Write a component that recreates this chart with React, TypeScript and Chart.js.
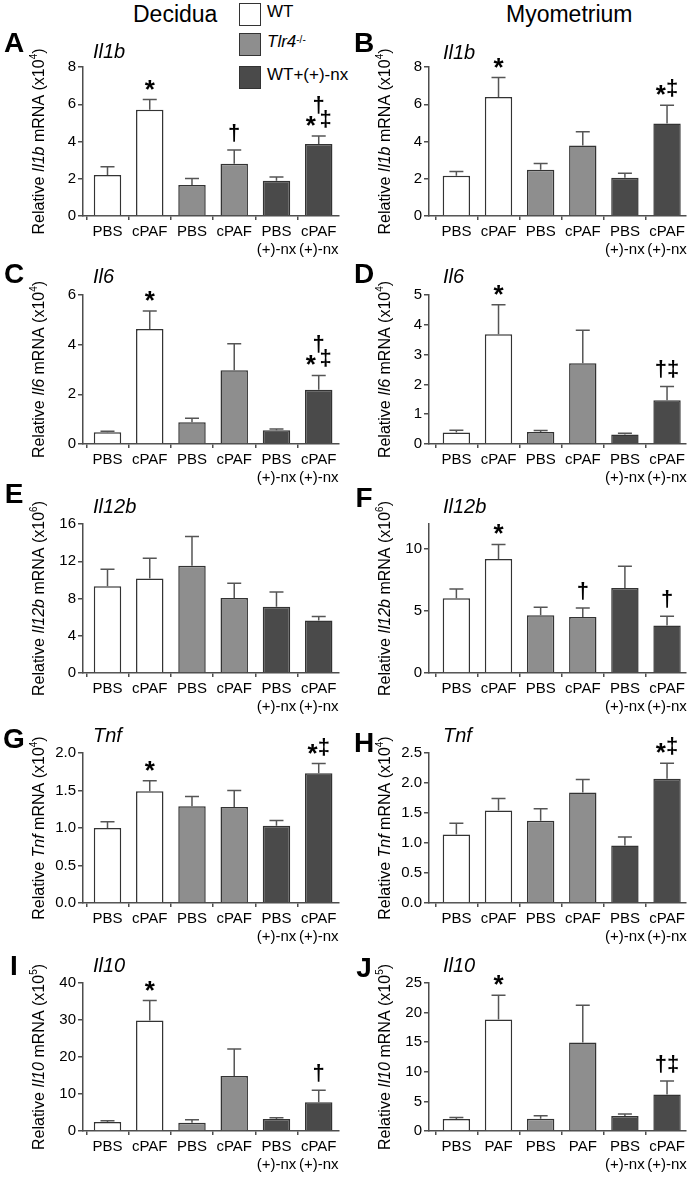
import React, { useEffect, useRef } from 'react';
import { Chart, registerables } from 'chart.js';

Chart.register(...registerables);

const FONT = '"Liberation Sans", Arial, Helvetica, sans-serif';
const AXIS_COLOR = '#4d4d4d';
const BAR_BORDER = '#333333';
const ERR_COLOR = '#555555';
const WT_FILL = '#ffffff';
const TLR4_FILL = '#8e8e8e';
const NX_FILL = '#4a4a4a';
const groupFills = [WT_FILL, WT_FILL, TLR4_FILL, TLR4_FILL, NX_FILL, NX_FILL];

// ---------------- data ----------------
const treatments = ['PBS', 'cPAF', 'PBS', 'cPAF', ['PBS', '(+)-nx'], ['cPAF', '(+)-nx']];
const treatmentsMyoIl10 = ['PBS', 'PAF', 'PBS', 'PAF', ['PBS', '(+)-nx'], ['cPAF', '(+)-nx']];
const legendLabels = ['WT', 'Tlr4', 'WT+(+)-nx'];

// Decidua
const decIl1bMean = [2.2, 5.71, 1.66, 2.8, 1.89, 3.86];
const decIl1bSem = [0.44, 0.54, 0.36, 0.74, 0.21, 0.43];
const decIl1bMarks = ['', '*', '', '†', '', '†\n* ‡'];

const decIl6Mean = [0.47, 4.63, 0.88, 2.97, 0.55, 2.18];
const decIl6Sem = [0.04, 0.73, 0.16, 1.07, 0.05, 0.58];
const decIl6Marks = ['', '*', '', '', '', '†\n* ‡'];

const decIl12bMean = [9.31, 10.16, 11.52, 8.05, 7.12, 5.65];
const decIl12bSem = [1.82, 2.15, 3.15, 1.58, 1.58, 0.43];
const decIl12bMarks = ['', '', '', '', '', ''];

const decTnfMean = [1.0, 1.49, 1.29, 1.28, 1.03, 1.73];
const decTnfSem = [0.085, 0.14, 0.13, 0.22, 0.07, 0.13];
const decTnfMarks = ['', '*', '', '', '', '*‡'];

const decIl10Mean = [2.42, 29.87, 2.24, 14.89, 3.23, 7.8];
const decIl10Sem = [0.36, 5.38, 0.81, 7.26, 0.36, 3.23];
const decIl10Marks = ['', '*', '', '', '', '†'];

// Myometrium
const myoIl1bMean = [2.16, 6.39, 2.48, 3.79, 2.05, 4.96];
const myoIl1bSem = [0.23, 1.04, 0.34, 0.73, 0.24, 0.99];
const myoIl1bMarks = ['', '*', '', '', '', '*‡'];

const myoIl6Mean = [0.39, 3.68, 0.4, 2.71, 0.32, 1.47];
const myoIl6Sem = [0.07, 0.99, 0.05, 1.11, 0.04, 0.46];
const myoIl6Marks = ['', '*', '', '', '', '†‡'];

const myoIl12bMean = [6.02, 9.19, 4.65, 4.52, 6.85, 3.82];
const myoIl12bSem = [0.75, 1.16, 0.65, 0.72, 1.75, 0.75];
const myoIl12bMarks = ['', '*', '', '†', '', '†'];

const myoTnfMean = [1.14, 1.54, 1.37, 1.84, 0.96, 2.07];
const myoTnfSem = [0.19, 0.2, 0.2, 0.22, 0.14, 0.26];
const myoTnfMarks = ['', '', '', '', '', '*‡'];

const myoIl10Mean = [2.02, 18.83, 2.07, 14.97, 2.52, 6.17];
const myoIl10Sem = [0.28, 4.1, 0.51, 6.27, 0.34, 2.29];
const myoIl10Marks = ['', '*', '', '', '', '†‡'];

// ---------------- layout ----------------
const COL_LEFT = [0, 346];
const PLOT_LEFT = [83, 429];
const PLOT_RIGHT = [339, 686];
const X_RANGE = [[-0.58, 5.48], [-0.65, 5.45]];
const ROW_TOP = [67, 295, 524, 753, 983];
const ROW_BOTTOM = [216, 444, 673, 903, 1131];
const LETTER_CX = [14, 364];
const TITLE_X = [93, 443];
const TOP_PAD = 50;
const X_AXIS_H = 46;

type Spec = {
  letter: string; gene: string; exp: string;
  labels: any[]; mean: number[]; sem: number[]; marks: string[];
  yMax: number; yStep: number; decimals: number; includeBounds: boolean;
  col: number; row: number; letterY: number; titleY: number;
};

const panels: Spec[] = [
  { letter: 'A', gene: 'Il1b', exp: '4', labels: treatments, mean: decIl1bMean, sem: decIl1bSem, marks: decIl1bMarks, yMax: 8, yStep: 2, decimals: 0, includeBounds: true, col: 0, row: 0, letterY: 52, titleY: 58 },
  { letter: 'B', gene: 'Il1b', exp: '4', labels: treatments, mean: myoIl1bMean, sem: myoIl1bSem, marks: myoIl1bMarks, yMax: 8, yStep: 2, decimals: 0, includeBounds: true, col: 1, row: 0, letterY: 52, titleY: 59 },
  { letter: 'C', gene: 'Il6', exp: '4', labels: treatments, mean: decIl6Mean, sem: decIl6Sem, marks: decIl6Marks, yMax: 6, yStep: 2, decimals: 0, includeBounds: true, col: 0, row: 1, letterY: 283, titleY: 283 },
  { letter: 'D', gene: 'Il6', exp: '4', labels: treatments, mean: myoIl6Mean, sem: myoIl6Sem, marks: myoIl6Marks, yMax: 5, yStep: 1, decimals: 0, includeBounds: true, col: 1, row: 1, letterY: 283, titleY: 283 },
  { letter: 'E', gene: 'Il12b', exp: '6', labels: treatments, mean: decIl12bMean, sem: decIl12bSem, marks: decIl12bMarks, yMax: 16, yStep: 4, decimals: 0, includeBounds: true, col: 0, row: 2, letterY: 503, titleY: 513 },
  { letter: 'F', gene: 'Il12b', exp: '6', labels: treatments, mean: myoIl12bMean, sem: myoIl12bSem, marks: myoIl12bMarks, yMax: 12, yStep: 5, decimals: 0, includeBounds: false, col: 1, row: 2, letterY: 507, titleY: 513 },
  { letter: 'G', gene: 'Tnf', exp: '4', labels: treatments, mean: decTnfMean, sem: decTnfSem, marks: decTnfMarks, yMax: 2, yStep: 0.5, decimals: 1, includeBounds: true, col: 0, row: 3, letterY: 748, titleY: 742 },
  { letter: 'H', gene: 'Tnf', exp: '4', labels: treatments, mean: myoTnfMean, sem: myoTnfSem, marks: myoTnfMarks, yMax: 2.5, yStep: 0.5, decimals: 1, includeBounds: true, col: 1, row: 3, letterY: 752, titleY: 742 },
  { letter: 'I', gene: 'Il10', exp: '5', labels: treatments, mean: decIl10Mean, sem: decIl10Sem, marks: decIl10Marks, yMax: 40, yStep: 10, decimals: 0, includeBounds: true, col: 0, row: 4, letterY: 975, titleY: 972 },
  { letter: 'J', gene: 'Il10', exp: '5', labels: treatmentsMyoIl10, mean: myoIl10Mean, sem: myoIl10Sem, marks: myoIl10Marks, yMax: 25, yStep: 5, decimals: 0, includeBounds: true, col: 1, row: 4, letterY: 977, titleY: 972 },
];

function geometry(s: Spec) {
  const ox = COL_LEFT[s.col];
  const oy = ROW_TOP[s.row] - TOP_PAD;
  const h = ROW_BOTTOM[s.row] - ROW_TOP[s.row] + TOP_PAD + X_AXIS_H;
  return { ox, oy, h, w: 346, padRight: ox + 346 - PLOT_RIGHT[s.col], yWidth: PLOT_LEFT[s.col] - ox };
}

const STAR_FONT = `bold 26px ${FONT}`;
const DAGGER_FONT = `bold 22px ${FONT}`;

function drawMarks(ctx: CanvasRenderingContext2D, text: string, cx: number, baseY: number) {
  const lines = text.split('\n');
  const n = lines.length;
  lines.forEach((line, li) => {
    const y = baseY - (n - 1 - li) * 14;
    const chars = Array.from(line);
    const fonts = chars.map((c) => (c === '*' ? STAR_FONT : DAGGER_FONT));
    const widths = chars.map((c, k) => {
      ctx.font = fonts[k];
      return ctx.measureText(c).width * (c === ' ' ? 0.6 : 1);
    });
    const total = widths.reduce((a, b) => a + b, 0);
    let x = cx - total / 2;
    chars.forEach((c, k) => {
      ctx.font = fonts[k];
      if (c !== ' ') ctx.fillText(c, x, c === '*' ? y + 8 : y);
      x += widths[k];
    });
  });
}

const decorPlugin = {
  id: 'decor',
  afterDraw(chart: any, _args: any, opts: any) {
    const s: Spec = opts.spec;
    const { ox, oy } = opts;
    const ctx: CanvasRenderingContext2D = chart.ctx;
    const y = chart.scales.y;
    const area = chart.chartArea;
    const meta = chart.getDatasetMeta(0);
    ctx.save();
    // error bars (upper SEM)
    ctx.strokeStyle = ERR_COLOR;
    ctx.lineWidth = 1.5;
    ctx.fillStyle = '#000';
    ctx.textAlign = 'left';
    ctx.textBaseline = 'alphabetic';
    meta.data.forEach((el: any, i: number) => {
      const yBar = y.getPixelForValue(s.mean[i]);
      const yTop = y.getPixelForValue(s.mean[i] + s.sem[i]);
      ctx.beginPath();
      ctx.moveTo(el.x, yBar);
      ctx.lineTo(el.x, yTop);
      ctx.moveTo(el.x - 7, yTop);
      ctx.lineTo(el.x + 7, yTop);
      ctx.stroke();
      if (s.marks[i]) drawMarks(ctx, s.marks[i], el.x, yTop - 10);
    });

    // panel letter
    ctx.font = `bold 28px ${FONT}`;
    ctx.textAlign = 'center';
    ctx.fillText(s.letter, LETTER_CX[s.col] - ox, s.letterY - oy);

    // gene title
    ctx.font = `italic 20px ${FONT}`;
    ctx.textAlign = 'left';
    ctx.fillText(s.gene, TITLE_X[s.col] - ox, s.titleY - oy);

    // y axis title, rotated, with italic gene and superscript exponent
    const pieces = [
      { t: 'Relative ', f: `16px ${FONT}`, dy: 0 },
      { t: s.gene, f: `italic 16px ${FONT}`, dy: 0 },
      { t: ' mRNA (x10', f: `16px ${FONT}`, dy: 0 },
      { t: s.exp, f: `10px ${FONT}`, dy: -7 },
      { t: ')', f: `16px ${FONT}`, dy: 0 },
    ];
    const widths = pieces.map((p) => {
      ctx.font = p.f;
      return ctx.measureText(p.t).width;
    });
    const total = widths.reduce((a, b) => a + b, 0);
    ctx.translate(area.left - 39, (area.top + area.bottom) / 2);
    ctx.rotate(-Math.PI / 2);
    let x = -total / 2;
    pieces.forEach((p, k) => {
      ctx.font = p.f;
      ctx.fillText(p.t, x, p.dy);
      x += widths[k];
    });
    ctx.restore();
  },
};

function Panel({ spec }: { spec: Spec }) {
  const ref = useRef<HTMLCanvasElement | null>(null);
  const g = geometry(spec);
  useEffect(() => {
    if (!ref.current) return;
    const [xMin, xMax] = X_RANGE[spec.col];
    const chart = new Chart(ref.current, {
      type: 'bar',
      data: {
        datasets: [
          {
            data: spec.mean.map((v, i) => ({ x: i, y: v })),
            backgroundColor: groupFills,
            borderColor: BAR_BORDER,
            borderWidth: 1.5,
            barPercentage: 0.65,
            categoryPercentage: 1,
          } as any,
        ],
      },
      options: {
        responsive: false,
        animation: false,
        devicePixelRatio: 1,
        layout: { padding: { top: TOP_PAD, left: 0, right: g.padRight, bottom: 0 } },
        plugins: {
          legend: { display: false },
          tooltip: { enabled: false },
          decor: { spec, ox: g.ox, oy: g.oy },
        } as any,
        scales: {
          x: {
            type: 'linear',
            min: xMin,
            max: xMax,
            offset: false,
            afterBuildTicks: (axis: any) => {
              axis.ticks = spec.labels.map((_, i) => ({ value: i }));
            },
            afterFit: (axis: any) => {
              axis.height = X_AXIS_H;
            },
            grid: { display: true, drawOnChartArea: false, drawTicks: true, tickLength: 4, color: AXIS_COLOR, lineWidth: 1.5 },
            border: { display: true, color: AXIS_COLOR, width: 1.5 },
            ticks: {
              autoSkip: false,
              maxRotation: 0,
              minRotation: 0,
              padding: 2,
              color: '#000',
              font: { family: FONT, size: 15, lineHeight: 1.25 },
              callback: (v: any) => spec.labels[Math.round(Number(v))],
            },
          },
          y: {
            type: 'linear',
            min: 0,
            max: spec.yMax,
            afterFit: (axis: any) => {
              axis.width = g.yWidth;
            },
            grid: { display: true, drawOnChartArea: false, drawTicks: true, tickLength: 5, color: AXIS_COLOR, lineWidth: 1.5 },
            border: { display: true, color: AXIS_COLOR, width: 1.5 },
            ticks: {
              stepSize: spec.yStep,
              includeBounds: spec.includeBounds,
              padding: 2,
              color: '#000',
              font: { family: FONT, size: 15 },
              callback: (v: any) => (spec.decimals ? Number(v).toFixed(spec.decimals) : String(v)),
            },
          },
        } as any,
      },
      plugins: [decorPlugin as any],
    });
    return () => chart.destroy();
  }, [spec]);
  return (
    <canvas
      ref={ref}
      width={g.w}
      height={g.h}
      style={{ position: 'absolute', left: g.ox, top: g.oy, width: g.w, height: g.h }}
    />
  );
}

const legendFills = [WT_FILL, TLR4_FILL, NX_FILL];
const legendBoxTops = [3, 33, 66];

export default function App() {
  return (
    <div
      style={{
        position: 'absolute',
        left: 0,
        top: 0,
        width: 692,
        height: 1177,
        background: '#fff',
        overflow: 'hidden',
        fontFamily: FONT,
        color: '#000',
      }}
    >
      <div style={{ position: 'absolute', left: 133, top: 3, fontSize: 23, lineHeight: '23px', whiteSpace: 'nowrap' }}>Decidua</div>
      <div style={{ position: 'absolute', left: 506, top: 3, fontSize: 23, lineHeight: '23px', whiteSpace: 'nowrap' }}>Myometrium</div>
      {legendLabels.map((lab, i) => (
        <React.Fragment key={lab}>
          <div
            style={{
              position: 'absolute',
              left: 239,
              top: legendBoxTops[i],
              width: 22,
              height: 23,
              boxSizing: 'border-box',
              border: `1.5px solid ${BAR_BORDER}`,
              background: legendFills[i],
            }}
          />
          <div
            style={{
              position: 'absolute',
              left: 267,
              top: legendBoxTops[i] + 0,
              fontSize: 17,
              lineHeight: '17px',
              whiteSpace: 'nowrap',
            }}
          >
            {i === 1 ? (
              <>
                <i>{lab}</i>
                <sup style={{ fontSize: 10, verticalAlign: 'top', position: 'relative', top: -2 }}>-/-</sup>
              </>
            ) : (
              lab
            )}
          </div>
        </React.Fragment>
      ))}
      {panels.map((p) => (
        <Panel key={p.letter} spec={p} />
      ))}
    </div>
  );
}
